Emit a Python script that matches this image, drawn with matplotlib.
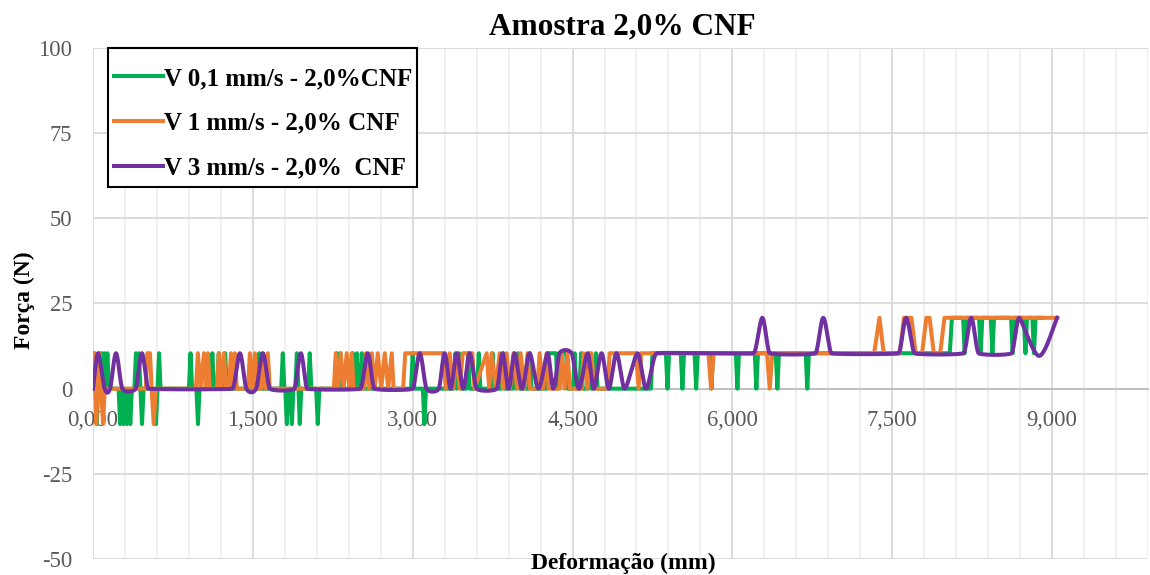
import numpy as np
import matplotlib
matplotlib.use("Agg")
import matplotlib.pyplot as plt
from matplotlib.patches import Rectangle
from matplotlib.ticker import MultipleLocator, FuncFormatter

plt.rcParams['font.family'] = ['Liberation Serif', 'DejaVu Serif']

title = "Amostra 2,0% CNF"
xlabel = "Deformação (mm)"
ylabel = "Força (N)"
labels = ["V 0,1 mm/s - 2,0%CNF", "V 1 mm/s - 2,0% CNF", "V 3 mm/s - 2,0%  CNF"]
colors = ["#00B050", "#ED7D31", "#7030A0"]

# ---- V 0,1 mm/s (green) ----
green_x = [0.000, 0.012, 0.024, 0.036, 0.048, 0.060, 0.072, 0.084, 0.096, 0.108, 0.120, 0.135, 0.150,
           0.240, 0.255, 0.270, 0.285, 0.300, 0.318, 0.333, 0.350, 0.365,
           0.388, 0.403, 0.418, 0.430, 0.445, 0.460, 0.475,
           0.576, 0.591, 0.606, 0.620, 0.634,
           0.900, 0.915, 0.930, 0.970, 0.985, 1.000,
           1.105, 1.120, 1.135, 1.165, 1.180, 1.195, 1.225, 1.240, 1.255,
           1.545, 1.560, 1.575,
           1.766, 1.781, 1.796, 1.804, 1.819, 1.834, 1.851, 1.866, 1.881, 1.898, 1.913, 1.928, 1.940, 1.955,
           2.019, 2.034, 2.049, 2.094, 2.109, 2.124,
           2.273, 2.288, 2.303, 2.320, 2.335, 2.423, 2.438, 2.453, 2.475, 2.490, 2.507, 2.522, 2.537,
           2.985, 3.000, 3.015, 3.095, 3.110, 3.125,
           3.385, 3.400, 3.415, 3.435, 3.450, 3.505, 3.520, 3.535, 3.605, 3.620, 3.635,
           3.735, 3.750, 3.765, 3.835, 3.850, 3.865,
           3.935, 3.950, 3.965, 3.990, 4.005, 4.085, 4.100, 4.115,
           4.255, 4.270, 4.345, 4.360, 4.375, 4.440, 4.455,
           4.505, 4.520, 4.535, 4.565, 4.580, 4.595, 4.645, 4.660, 4.675, 4.705, 4.720, 4.735,
           5.235, 5.250, 5.376, 5.391, 5.406, 5.516, 5.531, 5.546, 5.645, 5.660, 5.675,
           5.788, 5.803, 5.818, 6.032, 6.047, 6.062, 6.210, 6.225, 6.240, 6.407, 6.422, 6.437,
           6.688, 6.703, 6.718,
           8.040, 8.060, 8.165, 8.180, 8.195, 8.315, 8.330, 8.345, 8.425, 8.440, 8.455,
           8.615, 8.630, 8.645, 8.735, 8.750, 8.765, 8.815, 8.830, 8.845, 8.900]
green_y = [0, 10.4, 0, -10.4, 0, 10.4, 0, 10.4, 0, 10.4, 0, 10.4, 0,
           0, -10.4, 0, -10.4, 0, -10.4, 0, -10.4, 0,
           0, 10.4, 0, 10.4, 0, -10.4, 0,
           0, -10.4, 0, 10.4, 0,
           0, 10.4, 0, 0, -10.4, 0,
           0, 10.4, 0, 0, 10.4, 0, 0, 10.4, 0,
           0, 10.4, 0,
           0, 10.4, 0, 0, -10.4, 0, 0, -10.4, 0, 0, 10.4, 0, -10.4, 0,
           0, 10.4, 0, 0, -10.4, 0,
           0, 10.4, 0, 10.4, 0, 0, 10.4, 0, 10.4, 0, 0, 10.4, 0,
           0, 10.4, 0, 0, -10.4, 0,
           0, 10.4, 0, 10.4, 0, 0, 10.4, 0, 0, 10.4, 0,
           0, 10.4, 0, 0, 10.4, 0,
           0, 10.4, 0, 10.4, 0, 0, 10.4, 0,
           0, 10.4, 10.4, 0, 10.4, 10.4, 0,
           0, 10.4, 0, 0, 10.4, 0, 0, 10.4, 0, 0, 10.4, 0,
           0, 10.4, 10.4, 0, 10.4, 10.4, 0, 10.4, 10.4, 0, 10.4,
           10.4, 0, 10.4, 10.4, 0, 10.4, 10.4, 0, 10.4, 10.4, 0, 10.4,
           10.4, 0, 10.4,
           10.4, 20.8, 20.8, 10.4, 20.8, 20.8, 10.4, 20.8, 20.8, 10.4, 20.8,
           20.8, 10.4, 20.8, 20.8, 10.4, 20.8, 20.8, 10.4, 20.8, 20.8]

# ---- V 1 mm/s (orange) ----
orange_x = [0.000, 0.015, 0.030, 0.045, 0.060, 0.075, 0.095, 0.110,
            0.495, 0.510, 0.535, 0.550, 0.570, 0.590,
            0.966, 0.984, 1.010, 1.041, 1.060, 1.078, 1.096,
            1.163, 1.181, 1.205, 1.228, 1.250, 1.276, 1.294, 1.312, 1.331, 1.349,
            1.454, 1.472, 1.495, 1.519, 1.537, 1.576, 1.594, 1.617, 1.641, 1.659,
            2.260, 2.278, 2.300, 2.325, 2.352, 2.381, 2.405, 2.428, 2.446,
            2.541, 2.559, 2.588, 2.616, 2.644, 2.672, 2.705, 2.738, 2.770, 2.803, 2.821,
            2.910, 2.930, 3.290, 3.310,
            3.347, 3.380, 3.413, 3.440, 3.470, 3.560, 3.580,
            3.694, 3.718, 3.741, 3.778, 3.816, 3.848, 3.881, 3.914, 3.947, 3.980, 4.013, 4.045, 4.078, 4.100,
            4.170, 4.191, 4.222, 4.256, 4.275,
            4.380, 4.397, 4.425, 4.453, 4.475,
            4.585, 4.603, 4.640, 4.678, 4.700,
            4.830, 4.847, 5.095, 5.120, 5.145, 5.775, 5.800, 5.825, 6.325, 6.350, 6.375,
            7.330, 7.380, 7.420, 7.570, 7.610, 7.680, 7.720, 7.780, 7.820, 7.850, 7.890,
            7.950, 7.990, 9.047]
orange_y = [0, 10.4, -10.4, 0, 10.4, 0, -10.4, 0,
            0, 10.4, 10.4, 0, -10.4, 0,
            0, 10.4, 0, 10.4, 0, 10.4, 0,
            0, 10.4, 0, 10.4, 0, 0, 10.4, 0, 10.4, 0,
            0, 10.4, 0, 10.4, 0, 0, 10.4, 0, 10.4, 0,
            0, 10.4, 0, 10.4, 0, 10.4, 0, 10.4, 0,
            0, 10.4, 0, 10.4, 0, 10.4, 0, 10.4, 0, 10.4, 0,
            0, 10.4, 10.4, 0,
            10.4, 0, 10.4, 0, 10.4, 10.4, 0,
            10.4, 0, 10.4, 0, 10.4, 0, 10.4, 0, 10.4, 0, 10.4, 0, 10.4, 0,
            0, 10.4, 0, 10.4, 0,
            0, 10.4, 0, 10.4, 0,
            0, 10.4, 0, 10.4, 0,
            0, 10.4, 10.4, 0, 10.4, 10.4, 0, 10.4, 10.4, 0, 10.4,
            10.4, 20.8, 10.4, 10.4, 20.8, 20.8, 10.4, 10.4, 20.8, 20.8, 10.4,
            10.4, 20.8, 20.8]

# ---- V 3 mm/s (purple, smoothed line) ----
purple_x = [0.000, 0.047, 0.110, 0.160, 0.216, 0.275, 0.400, 0.459, 0.520,
            1.310, 1.378, 1.440, 1.530, 1.594, 1.660, 1.890, 1.950, 2.010,
            2.510, 2.578, 2.640, 3.000, 3.066, 3.130,
            3.245, 3.300, 3.357, 3.413, 3.474, 3.534, 3.600,
            3.790, 3.844, 3.900, 3.956, 4.026, 4.097, 4.180,
            4.266, 4.320, 4.378, 4.491, 4.560, 4.641, 4.700, 4.772, 4.840, 4.912, 4.990,
            5.110, 5.190, 5.288, 6.200, 6.281, 6.350, 6.780, 6.853, 6.930,
            7.560, 7.631, 7.710, 8.170, 8.241, 8.310, 8.620, 8.691, 8.878, 9.047]
purple_y = [0, 10.4, 0, 0, 10.4, 0, 0, 10.4, 0,
            0, 10.4, 0, 0, 10.4, 0, 0, 10.4, 0,
            0, 10.4, 0, 0, 10.4, 0,
            0, 10.4, 0, 10.4, 0, 10.4, 0,
            0, 10.4, 0, 10.4, 0, 10.4, 0,
            10.4, 0, 10.4, 10.4, 0, 10.4, 0, 10.4, 0, 10.4, 0,
            10.4, 0, 10.4, 10.4, 20.8, 10.4, 10.4, 20.8, 10.4,
            10.4, 20.8, 10.4, 10.4, 20.8, 10.4, 10.4, 20.8, 9.6, 20.8]

x_ticks = [0, 1.5, 3.0, 4.5, 6.0, 7.5, 9.0]
y_ticks = [-50, -25, 0, 25, 50, 75, 100]


def smooth(x, y, n=16):
    """Excel-like smoothed line (cubic Bezier through the points)."""
    p = np.column_stack([np.asarray(x, float), np.asarray(y, float)])
    m = len(p)
    tang = np.zeros_like(p)
    for i in range(m):
        a = p[max(i - 1, 0)]
        b = p[min(i + 1, m - 1)]
        t = (b - a) / 6.0
        dxl = p[i, 0] - p[max(i - 1, 0)][0] if i > 0 else np.inf
        dxr = p[min(i + 1, m - 1)][0] - p[i, 0] if i < m - 1 else np.inf
        lim = min(dxl, dxr) / 3.0
        if abs(t[0]) > lim > 0:
            t = t * (lim / abs(t[0]))
        tang[i] = t
    out = [p[0]]
    s = np.linspace(0, 1, n)[1:, None]
    for i in range(m - 1):
        p0, p3 = p[i], p[i + 1]
        c1, c2 = p0 + tang[i], p3 - tang[i + 1]
        seg = ((1 - s) ** 3) * p0 + 3 * ((1 - s) ** 2) * s * c1 + 3 * (1 - s) * s ** 2 * c2 + s ** 3 * p3
        out.extend(seg)
    out = np.array(out)
    return out[:, 0], out[:, 1]


W, H = 1150, 575
fig = plt.figure(figsize=(11.5, 5.75), dpi=100)
ax = fig.add_axes([93 / W, 1 - 559 / H, (1148 - 93) / W, (559 - 48) / H])

ax.set_xlim(0, 9.9)
ax.set_ylim(-50, 100)
ax.xaxis.set_major_locator(MultipleLocator(1.5))
ax.xaxis.set_minor_locator(MultipleLocator(0.3))
ax.set_yticks(y_ticks)
ax.set_xticks(x_ticks)
ax.xaxis.set_major_formatter(FuncFormatter(lambda v, p: f"{v:.3f}".replace('.', ',')))
ax.yaxis.set_major_formatter(FuncFormatter(lambda v, p: f"{v:.0f}"))

ax.grid(which='major', axis='both', color='#d9d9d9', linewidth=1.3, zorder=0)
ax.grid(which='minor', axis='x', color='#efefef', linewidth=1.3, zorder=0)
ax.set_axisbelow(True)

for s in ['top', 'right', 'left']:
    ax.spines[s].set_visible(False)
ax.spines['bottom'].set_position(('data', 0))
ax.spines['bottom'].set_color('#bfbfbf')
ax.spines['bottom'].set_linewidth(1.3)
ax.tick_params(which='both', length=0)
ax.tick_params(axis='x', pad=15, labelsize=16.3, labelcolor='#595959')
ax.tick_params(axis='y', pad=15, labelsize=16.3, labelcolor='#595959')

lw = 2.9
ax.plot(green_x, green_y, color=colors[0], lw=lw, label=labels[0], solid_joinstyle='round', zorder=3)
ax.plot(orange_x, orange_y, color=colors[1], lw=lw, label=labels[1], solid_joinstyle='round', zorder=4)
px, py = smooth(purple_x, purple_y)
ax.plot(px, py, color=colors[2], lw=lw, label=labels[2], solid_joinstyle='round', zorder=5)

# legend box (drawn separately to match Excel's padding)
box = Rectangle((108 / W, 1 - 187 / H), (417 - 108) / W, (187 - 48) / H, transform=fig.transFigure,
                facecolor='white', edgecolor='black', linewidth=1.5, zorder=9)
fig.add_artist(box)
leg = fig.legend(loc='upper left', bbox_to_anchor=(114 / W, 1 - 67 / H), bbox_transform=fig.transFigure,
                 borderaxespad=0, frameon=False,
                 prop={'weight': 'bold', 'size': 18}, handlelength=1.95, handletextpad=0.05,
                 labelspacing=0.87, borderpad=0.0)
leg.set_zorder(10)

fig.text(622 / W, 1 - 27 / H, title, ha='center', va='center', fontsize=22.5, fontweight='bold')
fig.text(623 / W, 1 - 563 / H, xlabel, ha='center', va='center', fontsize=17, fontweight='bold')
fig.text(24 / W, 1 - 300 / H, ylabel, ha='center', va='center', rotation=90, fontsize=17, fontweight='bold')

fig.savefig('out.png', dpi=100, facecolor='white')
